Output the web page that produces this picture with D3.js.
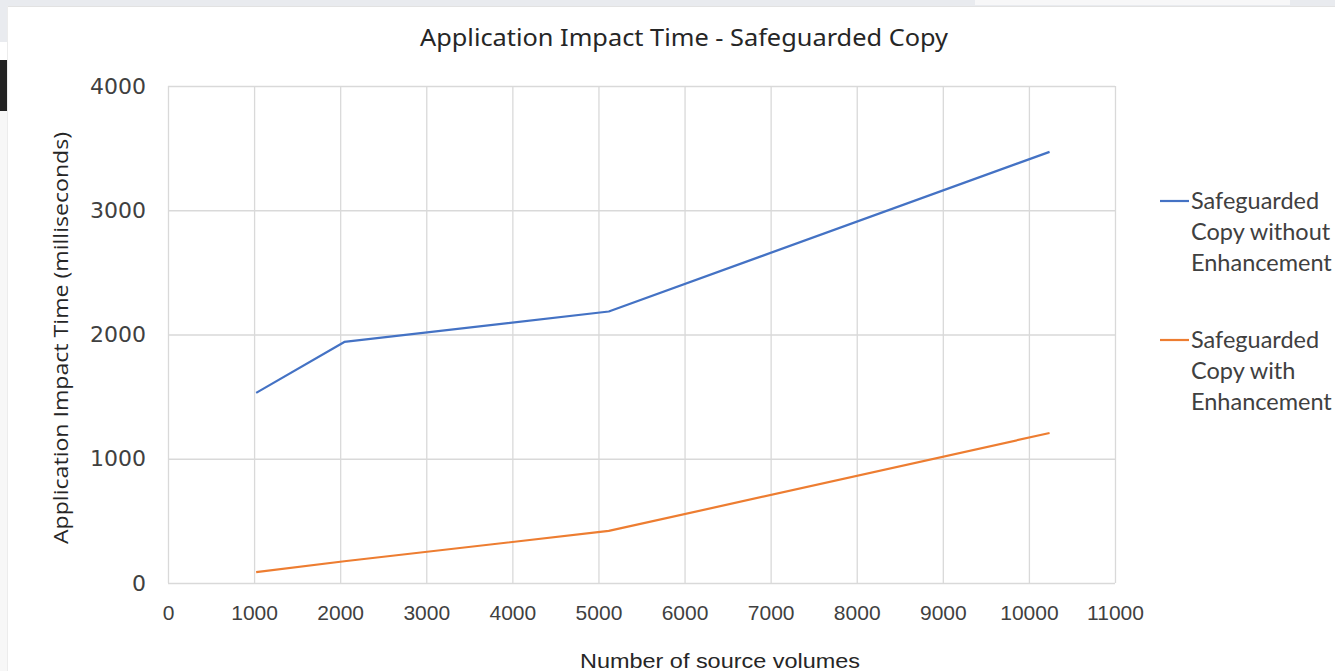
<!DOCTYPE html>
<html><head><meta charset="utf-8">
<script src="https://cdn.jsdelivr.net/npm/d3@7"></script>
<style>html,body{margin:0;padding:0;background:#fff;overflow:hidden}</style>
</head><body>
<svg id="chart" width="1335" height="671"></svg>
<script>
// ---- data ----
const volumes = [1024, 2048, 5120, 10240];
const withoutEnhancement = [1530, 1940, 2185, 3470];
const withEnhancement = [87, 175, 419, 1207];
const xTicks = [0,1000,2000,3000,4000,5000,6000,7000,8000,9000,10000,11000];
const yTicks = [0,1000,2000,3000,4000];
const seriesNames = [["Safeguarded","Copy without","Enhancement"],["Safeguarded","Copy with","Enhancement"]];
const colors = ["#4472C4", "#ED7D31"];

const svg = d3.select("#chart");
// screenshot surroundings
svg.append("rect").attr("x",0).attr("y",0).attr("width",1335).attr("height",671).attr("fill","#fff");
svg.append("rect").attr("x",0).attr("y",0).attr("width",1335).attr("height",6).attr("fill","#e9ebef");
svg.append("rect").attr("x",975).attr("y",0).attr("width",315).attr("height",5).attr("fill","#f7f7f8");
svg.append("rect").attr("x",0).attr("y",0).attr("width",7).attr("height",42).attr("fill","#e9ebef");
svg.append("rect").attr("x",0).attr("y",60).attr("width",7).attr("height",51).attr("fill","#232323");
svg.append("rect").attr("x",0).attr("y",111).attr("width",7).attr("height",560).attr("fill","#f7f7f7");
svg.append("line").attr("x1",7).attr("x2",1335).attr("y1",6.5).attr("y2",6.5).attr("stroke","#e2e2e2");
svg.append("line").attr("x1",7.5).attr("x2",7.5).attr("y1",6).attr("y2",671).attr("stroke","#ececec");

const x = d3.scaleLinear().domain([0, 11000]).range([168, 1115]);
const y = d3.scaleLinear().domain([0, 4000]).range([583, 86]);
const textColor = "#404040";

// gridlines
svg.append("g").selectAll("line").data(yTicks).join("line")
  .attr("x1", x(0)).attr("x2", x(11000)).attr("y1", d=>y(d)+0.5).attr("y2", d=>y(d)+0.5)
  .attr("stroke", "#d9d9d9").attr("stroke-width", 1.3);
svg.append("g").selectAll("line").data(xTicks).join("line")
  .attr("y1", y(0)).attr("y2", y(4000)).attr("x1", d=>x(d)+0.5).attr("x2", d=>x(d)+0.5)
  .attr("stroke", "#d9d9d9").attr("stroke-width", 1.3);

// axes via d3 axis (no domain / ticks, labels only)
const xAxis = svg.append("g").attr("transform", `translate(0,${y(0)})`)
  .call(d3.axisBottom(x).tickValues(xTicks).tickSize(0).tickPadding(22).tickFormat(d3.format("d")));
xAxis.select(".domain").remove();
xAxis.selectAll("text").attr("fill", textColor).style("font-family","'Liberation Sans', Arial, sans-serif").style("font-size","21px");

const yAxis = svg.append("g").attr("transform", `translate(146,0)`)
  .call(d3.axisLeft(y).tickValues(yTicks).tickSize(0).tickPadding(0).tickFormat(d3.format("d")));
yAxis.select(".domain").remove();
yAxis.selectAll("text").attr("fill", textColor).style("font-family","'DejaVu Sans', sans-serif").style("font-size","22px");

// lines
const line = d3.line().x((d,i)=>x(volumes[i])).y(d=>y(d));
[withoutEnhancement, withEnhancement].forEach((s,k)=>{
  svg.append("path").datum(s).attr("d", line).attr("fill","none")
    .attr("stroke", colors[k]).attr("stroke-width", 2.2).attr("stroke-linejoin","round");
});

// title
svg.append("text").attr("x", 684).attr("y", 46).attr("text-anchor","middle")
  .attr("fill", "#262626").style("font-family","'Noto Sans', sans-serif").style("font-size","23px")
  .attr("textLength", 528).attr("lengthAdjust","spacingAndGlyphs")
  .text("Application Impact Time - Safeguarded Copy");

// axis titles
svg.append("text").attr("transform","translate(68,338) rotate(-90)").attr("text-anchor","middle")
  .attr("fill", "#262626").style("font-family","'Open Sans', sans-serif").style("font-size","20px")
  .attr("textLength", 412).attr("lengthAdjust","spacingAndGlyphs")
  .text("Application Impact Time (milliseconds)");
svg.append("text").attr("x", 720).attr("y", 668).attr("text-anchor","middle")
  .attr("fill", "#262626").style("font-family","'Liberation Sans', sans-serif").style("font-size","21px")
  .attr("textLength", 280).attr("lengthAdjust","spacingAndGlyphs")
  .text("Number of source volumes");

// legend
const legendY = [201, 340];
seriesNames.forEach((lines,k)=>{
  const g = svg.append("g");
  g.append("line").attr("x1",1160).attr("x2",1189).attr("y1",legendY[k]).attr("y2",legendY[k])
    .attr("stroke", colors[k]).attr("stroke-width", 2.2);
  lines.forEach((t,j)=>{
    g.append("text").attr("x",1191).attr("y", legendY[k] + j*31 + 8)
      .attr("fill", textColor).style("font-family","Lato, sans-serif").style("font-size","23.5px")
      .text(t);
  });
});
</script>
</body></html>
